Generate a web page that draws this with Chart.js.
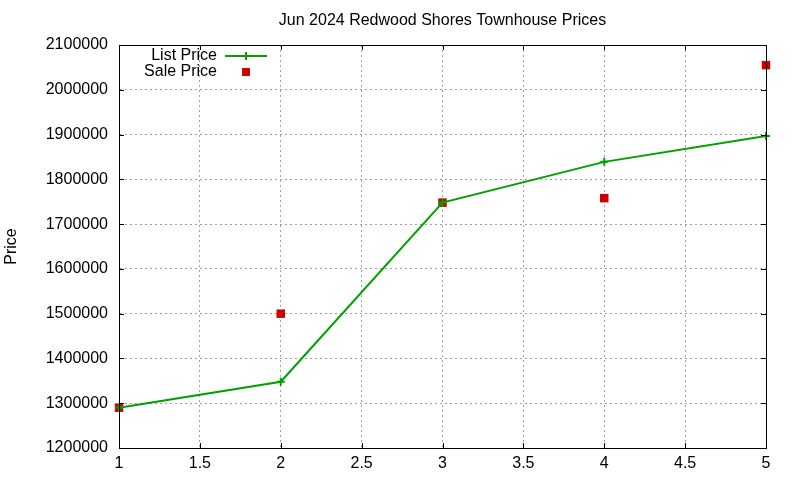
<!DOCTYPE html>
<html>
<head>
<meta charset="utf-8">
<script src="https://cdn.jsdelivr.net/npm/chart.js@4/dist/chart.umd.min.js"></script>
<style>
html,body{margin:0;padding:0;background:#fff;}
#wrap{width:800px;height:480px;}
</style>
</head>
<body>
<div id="wrap"><canvas id="c" width="800" height="480"></canvas></div>
<script>
const titleText = "Jun 2024 Redwood Shores Townhouse Prices";
const yAxisTitle = "Price";
const categories = [1, 2, 3, 4, 5];
const listPrice = [1290000, 1348000, 1748000, 1839000, 1897000];
const salePrice = [1290000, 1500000, 1748000, 1758000, 2055000];
const seriesNames = ["List Price", "Sale Price"];
const xTicks = [1, 1.5, 2, 2.5, 3, 3.5, 4, 4.5, 5];
const yTicks = [1200000, 1300000, 1400000, 1500000, 1600000, 1700000, 1800000, 1900000, 2000000, 2100000];

const GREEN = '#00a000';
const RED = '#cc0000';
const FONT = "'Liberation Sans', Arial, sans-serif";

Chart.defaults.font.family = FONT;
Chart.defaults.font.size = 16;
Chart.defaults.color = '#000';

const frameAndTicks = {
  id: 'frameAndTicks',
  afterDraw(chart) {
    const ctx = chart.ctx, a = chart.chartArea;
    const xs = chart.scales.x, ys = chart.scales.y;
    const L = 5;
    ctx.save();
    // title centred over plot area
    ctx.font = '16px ' + FONT;
    ctx.fillStyle = '#000';
    ctx.textAlign = 'center';
    ctx.textBaseline = 'middle';
    ctx.fillText(titleText, (a.left + a.right) / 2, a.top - 24);

    ctx.strokeStyle = '#000';
    ctx.lineWidth = 1;
    ctx.beginPath();
    xs.ticks.forEach(t => {
      const p = Math.round(xs.getPixelForValue(t.value)) + 0.5;
      ctx.moveTo(p, a.bottom); ctx.lineTo(p, a.bottom - L);
      ctx.moveTo(p, a.top); ctx.lineTo(p, a.top + L);
    });
    ys.ticks.forEach(t => {
      const p = Math.round(ys.getPixelForValue(t.value)) + 0.5;
      ctx.moveTo(a.left, p); ctx.lineTo(a.left + L, p);
      ctx.moveTo(a.right, p); ctx.lineTo(a.right - L, p);
    });
    ctx.stroke();
    ctx.strokeRect(Math.round(a.left) + 0.5, Math.round(a.top) + 0.5,
                   Math.round(a.right - a.left), Math.round(a.bottom - a.top));
    // legend inside plot, top-left
    ctx.fillStyle = '#000';
    ctx.textAlign = 'right';
    ctx.textBaseline = 'middle';
    const tx = a.left + 98, sx0 = a.left + 106, sx1 = a.left + 148, sc = (sx0 + sx1) / 2;
    const r1 = a.top + 11, r2 = a.top + 27;
    ctx.fillText(seriesNames[0], tx, r1);
    ctx.fillText(seriesNames[1], tx, r2);
    ctx.strokeStyle = GREEN;
    ctx.lineWidth = 2;
    ctx.beginPath();
    ctx.moveTo(sx0, r1); ctx.lineTo(sx1, r1);
    ctx.moveTo(sc, r1 - 4); ctx.lineTo(sc, r1 + 4);
    ctx.stroke();
    ctx.fillStyle = RED;
    ctx.fillRect(sc - 4, r2 - 4, 8, 8);
    ctx.restore();
  }
};

new Chart(document.getElementById('c'), {
  type: 'scatter',
  data: {
    datasets: [
      {
        label: seriesNames[0],
        data: categories.map((x, i) => ({x: x, y: listPrice[i]})),
        showLine: true,
        borderColor: GREEN,
        backgroundColor: GREEN,
        borderWidth: 2,
        pointStyle: 'cross',
        pointRadius: 4,
        pointBorderWidth: 2,
        pointHoverRadius: 4,
        tension: 0,
        clip: false
      },
      {
        label: seriesNames[1],
        data: categories.map((x, i) => ({x: x, y: salePrice[i]})),
        showLine: false,
        borderColor: RED,
        backgroundColor: RED,
        pointStyle: 'rect',
        pointRadius: 6,
        pointBorderWidth: 0,
        pointHoverRadius: 6,
        clip: false
      }
    ]
  },
  options: {
    responsive: false,
    animation: false,
    layout: {padding: {left: 0, right: 34, top: 45, bottom: 0}},
    plugins: {
      legend: {display: false},
      tooltip: {enabled: false},
      title: {display: false}
    },
    scales: {
      x: {
        type: 'linear',
        min: 1, max: 5,
        afterBuildTicks(s) { s.ticks = xTicks.map(v => ({value: v})); },
        afterFit(s) { s.height = 32; },
        ticks: {padding: 6, callback: v => String(v), font: {size: 16}, color: '#000', maxRotation: 0, autoSkip: false},
        grid: {color: '#a0a0a0', lineWidth: 1, drawTicks: false},
        border: {display: true, color: '#000', dash: [2, 3], width: 1}
      },
      y: {
        type: 'linear',
        min: 1200000, max: 2100000,
        afterBuildTicks(s) { s.ticks = yTicks.map(v => ({value: v})); },
        afterFit(s) { s.width = 119; },
        ticks: {padding: 11, callback: v => String(v), font: {size: 16}, color: '#000', autoSkip: false},
        grid: {color: '#a0a0a0', lineWidth: 1, drawTicks: false},
        border: {display: true, color: '#000', dash: [2, 3], width: 1},
        title: {display: true, text: yAxisTitle, font: {size: 16}, color: '#000', padding: {top: 2, bottom: 0}}
      }
    }
  },
  plugins: [frameAndTicks]
});
</script>
</body>
</html>
